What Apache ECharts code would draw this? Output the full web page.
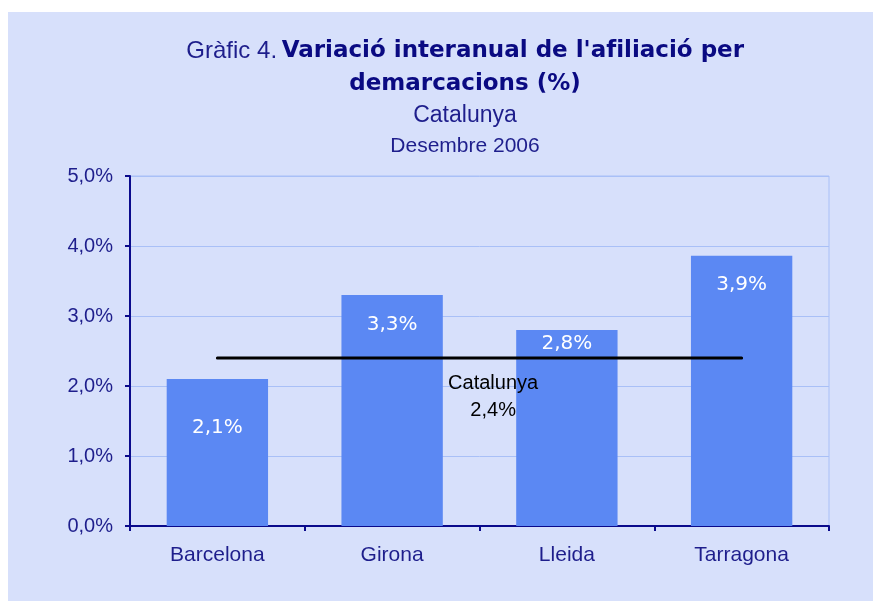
<!DOCTYPE html>
<html lang="ca">
<head>
    <meta charset="UTF-8">
    <title>Gràfic 4</title>
    <style>
        body { margin: 0; background: #fff; }
    </style>
</head>
<body>
    <div id="main" style="width: 873px;height:601px;"></div>
    <script src="https://cdn.jsdelivr.net/npm/echarts@6/dist/echarts.min.js"></script>
    <script type="text/javascript">
        var categories = ['Barcelona', 'Girona', 'Lleida', 'Tarragona'];
        var variacio = [2.1, 3.3, 2.8, 3.86];
        var barLabels = ['2,1%', '3,3%', '2,8%', '3,9%'];
        var labelDist = [39, 20, 4, 19]; // posició manual de les etiquetes
        var catalunya = [2.4, 2.4, 2.4, 2.4];
        var yTicks = [0, 1, 2, 3, 4, 5];

        var NAVY = '#1e1e8c';
        var myChart = echarts.init(document.getElementById('main'));

        var fmt = function (v) {
            return v.toFixed(1).replace('.', ',') + '%';
        };

        var option = {
            backgroundColor: '#ffffff',
            animation: false,
            graphic: [{
                type: 'rect',
                z: -10,
                shape: { x: 8, y: 12, width: 865, height: 589 },
                style: { fill: '#d7e0fb' }
            }],
            title: [{
                left: 460,
                top: 30,
                textAlign: 'center',
                text: "{n|Gràfic 4.} {b|Variació interanual de l'afiliació per}\n{b|demarcacions (%)}",
                textStyle: {
                    lineHeight: 33,
                    rich: {
                        n: { fontFamily: 'Liberation Sans', fontWeight: 'normal', fontSize: 24, color: NAVY, lineHeight: 33 },
                        b: { fontFamily: 'DejaVu Sans', fontWeight: 'bold', fontSize: 23, color: '#0a0a82', lineHeight: 33 }
                    }
                }
            }, {
                left: 460,
                top: 99,
                textAlign: 'center',
                text: 'Catalunya',
                textStyle: { fontFamily: 'Liberation Sans', fontWeight: 'normal', fontSize: 23, color: NAVY }
            }, {
                left: 460,
                top: 131,
                textAlign: 'center',
                text: 'Desembre 2006',
                textStyle: { fontFamily: 'Liberation Sans', fontWeight: 'normal', fontSize: 21, color: NAVY }
            }],
            grid: {
                left: 130,
                right: 44,
                top: 176,
                bottom: 75,
                show: true,
                borderColor: '#a9c0f7',
                borderWidth: 1
            },
            xAxis: {
                type: 'category',
                data: categories,
                axisLine: { lineStyle: { color: '#0a0a8c', width: 2 } },
                axisTick: { show: true, length: 5, lineStyle: { color: '#0a0a8c', width: 2 } },
                axisLabel: { margin: 19, fontFamily: 'Liberation Sans', fontSize: 21, color: NAVY }
            },
            yAxis: {
                type: 'value',
                min: yTicks[0],
                max: yTicks[yTicks.length - 1],
                interval: 1,
                axisLine: { show: true, lineStyle: { color: '#0a0a8c', width: 2 } },
                axisTick: { show: true, length: 5, lineStyle: { color: '#0a0a8c', width: 2 } },
                splitLine: { lineStyle: { color: '#a9c0f7', width: 1 } },
                axisLabel: {
                    margin: 17,
                    fontFamily: 'Liberation Sans',
                    fontSize: 20,
                    color: NAVY,
                    formatter: fmt
                }
            },
            series: [{
                type: 'bar',
                name: 'Variació',
                barWidth: '58%',
                itemStyle: { color: '#5b88f3' },
                data: variacio.map(function (v, i) {
                    return {
                        value: v,
                        label: {
                            show: true,
                            position: 'insideTop',
                            distance: labelDist[i],
                            formatter: barLabels[i],
                            fontFamily: 'DejaVu Sans',
                            fontSize: 20,
                            color: '#ffffff'
                        }
                    };
                })
            }, {
                type: 'line',
                name: 'Catalunya',
                symbol: 'circle',
                symbolSize: 0,
                showSymbol: true,
                lineStyle: { color: '#000000', width: 3, cap: 'round' },
                itemStyle: { color: '#000000' },
                z: 5,
                data: catalunya.map(function (v, i) {
                    if (i !== 1) return v;
                    return {
                        value: v,
                        label: {
                            show: true,
                            position: 'bottom',
                            distance: 0,
                            offset: [101, 12],
                            formatter: 'Catalunya\n' + fmt(v),
                            fontFamily: 'Liberation Sans',
                            fontSize: 20,
                            lineHeight: 27,
                            color: '#000000',
                            align: 'center'
                        }
                    };
                })
            }]
        };

        myChart.setOption(option);
    </script>
</body>
</html>
